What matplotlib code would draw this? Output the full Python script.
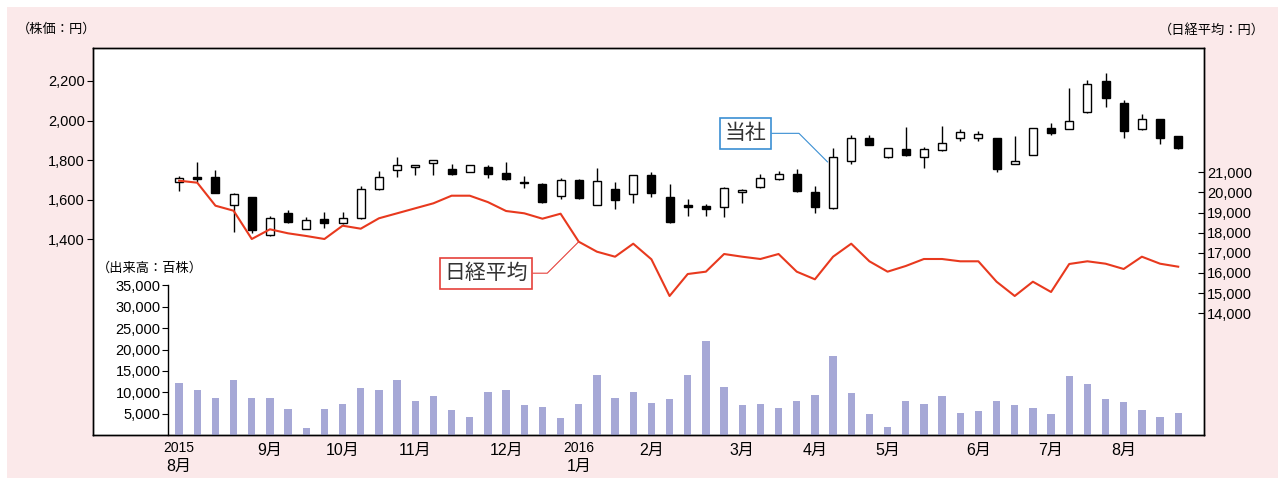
import matplotlib
matplotlib.use('Agg')
import matplotlib.pyplot as plt
import numpy as np
from matplotlib.patches import Rectangle
from matplotlib.ticker import FuncFormatter

plt.rcParams['font.family'] = ['Liberation Sans Narrow', 'Liberation Sans', 'Noto Sans CJK JP']

# ---- data (weekly, Aug 2015 - Aug 2016) ----
opens = [1687, 1715, 1715, 1574, 1611, 1420, 1533, 1452, 1499, 1479,
         1506, 1653, 1749, 1766, 1785, 1756, 1739, 1766, 1733, 1689,
         1678, 1618, 1699, 1574, 1655, 1626, 1722, 1611, 1570, 1568,
         1564, 1637, 1663, 1705, 1731, 1637, 1557, 1793, 1913, 1817,
         1854, 1817, 1851, 1913, 1913, 1913, 1781, 1825, 1964, 1955,
         2042, 2200, 2087, 1955, 2009, 1922]
highs = [1721, 1791, 1749, 1635, 1611, 1516, 1548, 1513, 1539, 1539,
         1668, 1746, 1817, 1775, 1801, 1781, 1773, 1773, 1790, 1719,
         1682, 1707, 1705, 1758, 1687, 1722, 1737, 1678, 1601, 1576,
         1665, 1652, 1729, 1744, 1756, 1668, 1859, 1928, 1928, 1863,
         1966, 1867, 1974, 1955, 1948, 1913, 1922, 1964, 1989, 2163,
         2205, 2239, 2104, 2033, 2009, 1922]
lows = [1645, 1690, 1631, 1437, 1429, 1417, 1483, 1450, 1454, 1476,
        1500, 1648, 1715, 1724, 1724, 1724, 1739, 1707, 1699, 1657,
        1584, 1601, 1601, 1571, 1550, 1584, 1611, 1479, 1516, 1516,
        1510, 1584, 1660, 1699, 1638, 1533, 1554, 1778, 1874, 1809,
        1820, 1758, 1847, 1896, 1896, 1741, 1778, 1825, 1927, 1955,
        2036, 2070, 1913, 1950, 1879, 1854]
closes = [1707, 1704, 1635, 1628, 1446, 1506, 1486, 1496, 1479, 1506,
          1653, 1715, 1773, 1775, 1801, 1729, 1773, 1728, 1704, 1682,
          1589, 1699, 1608, 1695, 1597, 1722, 1635, 1484, 1561, 1550,
          1657, 1647, 1707, 1729, 1643, 1564, 1817, 1913, 1876, 1863,
          1824, 1854, 1888, 1940, 1932, 1756, 1793, 1964, 1939, 2000,
          2183, 2112, 1947, 2008, 1911, 1859]
nikkei = [20583, 20484, 19342, 19093, 17688, 18170, 17970, 17837, 17688, 18349,
          18200, 18716, 18964, 19213, 19461, 19838, 19838, 19520, 19078, 18964,
          18696, 18944, 17554, 17058, 16809, 17455, 16680, 14858, 15950, 16066,
          16943, 16809, 16695, 16943, 16066, 15687, 16809, 17455, 16581, 16066,
          16347, 16695, 16695, 16581, 16581, 15568, 14858, 15568, 15057, 16447,
          16581, 16462, 16199, 16809, 16462, 16313]
volume = [12100, 10560, 8710, 12820, 8710, 8710, 6130, 1610, 6130, 7260,
          10970, 10560, 12820, 7980, 9110, 5810, 4270, 10160, 10560, 6930,
          6530, 3870, 7260, 13950, 8710, 10160, 7580, 8390, 14000, 22000,
          11220, 6970, 7280, 6270, 7970, 9440, 18600, 9750, 4800, 1860,
          7970, 7280, 9060, 5190, 5570, 7970, 6970, 6270, 4800, 13900,
          12000, 8360, 7660, 5880, 4100, 5190]

month_pos = [0, 5, 9, 13, 18, 22, 26, 31, 35, 39, 44, 48, 52]
month_names = ['8月', '9月', '10月', '11月', '12月', '1月', '2月', '3月',
               '4月', '5月', '6月', '7月', '8月']
year_pos = [0, 22]
year_names = ['2015', '2016']

price_ticks = [1400, 1600, 1800, 2000, 2200]
nikkei_ticks = [14000, 15000, 16000, 17000, 18000, 19000, 20000, 21000]
volume_ticks = [5000, 10000, 15000, 20000, 25000, 30000, 35000]

# ---- figure ----
W, H = 1278, 478
fig = plt.figure(figsize=(W / 100, H / 100), dpi=100)
fig.patch.set_facecolor('white')
fig.add_artist(Rectangle((7 / W, 0), 1, 1 - 7 / H, transform=fig.transFigure,
                         facecolor='#fbe9ea', edgecolor='none', zorder=-10))

rect = [93 / W, (H - 435) / H, (1204 - 93) / W, (435 - 48) / H]
x = np.arange(len(opens))
fmt = FuncFormatter(lambda v, p: f'{v:,.0f}')

ax = fig.add_axes(rect)
ax.set_facecolor('white')
ax.set_xlim(-4.74, 56.42)
ax.set_ylim(408, 2367)
for s in ax.spines.values():
    s.set_linewidth(1.0)
    s.set_color('black')

o = np.array(opens); c = np.array(closes)
bottoms = np.minimum(o, c)
heights = np.maximum(np.abs(c - o), 4)
colors = ['white' if cc >= oo else 'black' for oo, cc in zip(o, c)]
ax.vlines(x, lows, highs, color='black', lw=1.0, zorder=2)
ax.bar(x, heights, width=0.44, bottom=bottoms, color=colors,
       edgecolor='black', linewidth=1.0, zorder=3)

ax.set_yticks(price_ticks)
ax.yaxis.set_major_formatter(fmt)
ax.tick_params(axis='y', direction='out', length=4, width=0.8, labelsize=10.5, pad=2)
ax.set_xticks([])

# volume axes
ax_v = fig.add_axes(rect, sharex=ax)
ax_v.patch.set_visible(False)
for s in ['top', 'right', 'bottom']:
    ax_v.spines[s].set_visible(False)
ax_v.spines['left'].set_position(('data', -0.59))
ax_v.spines['left'].set_bounds(0, 35000)
ax_v.spines['left'].set_linewidth(1.0)
ax_v.set_ylim(0, 90600)
ax_v.bar(x, volume, width=0.4, color='#a6a8d6', zorder=2)
ax_v.set_yticks(volume_ticks)
ax_v.yaxis.set_major_formatter(fmt)
ax_v.tick_params(axis='y', direction='out', length=4, width=0.8, labelsize=10.5, pad=1.5)
ax_v.tick_params(axis='x', bottom=False, labelbottom=False)

# nikkei axes
ax_n = ax.twinx()
ax_n.set_ylim(7956, 27172)
ax_n.plot(x, nikkei, color='#e8391e', lw=1.5, zorder=3)
ax_n.set_yticks(nikkei_ticks)
ax_n.yaxis.set_major_formatter(fmt)
ax_n.tick_params(axis='y', direction='in', length=4, width=0.8, labelsize=10.5, pad=2)
for s in ax_n.spines.values():
    s.set_linewidth(1.0)

# callouts
ax.annotate('当社', xy=(35.7, 1790), xytext=(31.2, 1935), textcoords='data',
            ha='center', va='center', fontsize=15, color='#333333',
            family=['Noto Sans CJK JP'],
            bbox=dict(boxstyle='square,pad=0.22', fc='white', ec='#3b8fd3', lw=1.2),
            arrowprops=dict(arrowstyle='-', color='#3b8fd3', lw=0.8, shrinkA=0, shrinkB=0,
                            connectionstyle='angle,angleA=0,angleB=-45,rad=0'),
            zorder=6)
ax_n.annotate('日経平均', xy=(22, nikkei[22]), xytext=(16.9, 15990), textcoords='data',
              ha='center', va='center', fontsize=15, color='#333333',
              family=['Noto Sans CJK JP'],
              bbox=dict(boxstyle='square,pad=0.22', fc='white', ec='#e5413b', lw=1.2),
              arrowprops=dict(arrowstyle='-', color='#e5413b', lw=0.8, shrinkA=0, shrinkB=0,
                              connectionstyle='angle,angleA=0,angleB=45,rad=0'),
              zorder=6)

# month labels
trans = ax.get_xaxis_transform()
for p, m in zip(month_pos, month_names):
    yy = -0.080 if p in year_pos else -0.041
    ax.text(p, yy, m, transform=trans, ha='center', va='center', fontsize=11.5,
            clip_on=False)
for p, yname in zip(year_pos, year_names):
    ax.text(p, -0.034, yname, transform=trans, ha='center', va='center',
            fontsize=10, clip_on=False)

# axis titles
fig.text(57 / W, 1 - 29 / H, '（株価：円）', ha='center', va='center', fontsize=9.5)
fig.text(1212 / W, 1 - 30 / H, '（日経平均：円）', ha='center', va='center', fontsize=9.5)
fig.text(150 / W, 1 - 268 / H, '（出来高：百株）', ha='center', va='center', fontsize=9.5)

fig.savefig('out.png', dpi=100, facecolor=fig.get_facecolor())
